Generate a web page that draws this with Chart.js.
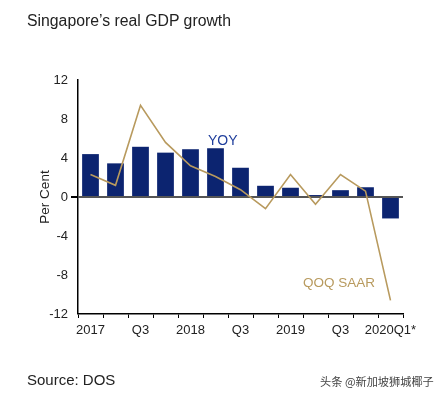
<!DOCTYPE html>
<html lang="en">
<head>
  <meta charset="UTF-8">
  <title>Singapore's real GDP growth</title>
  <script src="https://cdn.jsdelivr.net/npm/chart.js"></script>
  <style>
    body { margin: 0; background: #fff; font-family: "Liberation Sans", Arial, sans-serif; }
    #wrap { position: relative; width: 445px; height: 397px; }
    .txt { position: absolute; white-space: nowrap; }
  </style>
</head>
<body>
  <div id="wrap">
    <canvas id="gdpChart" width="445" height="397"></canvas>
    <div class="txt" style="left:27px; top:12px; font-size:15.8px; color:#222;">Singapore’s real GDP growth</div>
    <div class="txt" style="left:208px; top:132px; font-size:14px; color:#1f3e9c;">YOY</div>
    <div class="txt" style="left:303px; top:275px; font-size:13.5px; color:#b89a5e;">QOQ SAAR</div>
    <div class="txt" style="left:27px; top:371px; font-size:15px; color:#222;">Source: DOS</div>
    <div class="txt" style="left:320px; top:373px; font-size:11.2px; color:#444; font-family:'Noto Sans CJK SC', sans-serif;">头条 @新加坡狮城椰子</div>
  </div>
  <script>
    // quarters 2017Q1 .. 2020Q1
    const quarterLabels = ['2017', '', 'Q3', '', '2018', '', 'Q3', '', '2019', '', 'Q3', '', '2020Q1*'];
    const yoyGrowth = [4.4, 3.45, 5.15, 4.55, 4.9, 5.0, 3.0, 1.15, 0.95, 0.2, 0.7, 1.0, -2.2];
    const qoqSaar = [2.3, 1.2, 9.4, 5.6, 3.2, 2.1, 0.75, -1.2, 2.3, -0.75, 2.3, 0.6, -10.6];
    const yTicks = [-12, -8, -4, 0, 4, 8, 12];

    const ctx = document.getElementById('gdpChart').getContext('2d');
    new Chart(ctx, {
      data: {
        labels: quarterLabels,
        datasets: [
          {
            type: 'line',
            label: 'QOQ SAAR',
            data: qoqSaar,
            borderColor: '#b89a5e',
            borderWidth: 1.6,
            pointRadius: 0,
            tension: 0,
            order: 0
          },
          {
            type: 'bar',
            label: 'YOY',
            data: yoyGrowth,
            backgroundColor: '#0c2470',
            categoryPercentage: 1,
            barPercentage: 0.67,
            order: 1
          }
        ]
      },
      options: {
        responsive: false,
        animation: false,
        layout: { padding: { left: 0, right: 42, top: 80, bottom: 0 } },
        plugins: { legend: { display: false }, tooltip: { enabled: false } },
        scales: {
          x: {
            offset: true,
            grid: { offset: true, drawOnChartArea: false, tickLength: 4, color: '#000' },
            border: { color: '#000', width: 1.5 },
            ticks: {
              autoSkip: false, maxRotation: 0, padding: 5,
              color: '#222', font: { family: 'Liberation Sans', size: 13 }
            },
            afterFit: s => { s.height = 83; }
          },
          y: {
            min: -12, max: 12,
            afterBuildTicks: s => { s.ticks = yTicks.map(v => ({ value: v })); },
            grid: {
              tickLength: 7,
              tickColor: '#000',
              lineWidth: c => (c.tick && c.tick.value === 0 ? 2 : 0),
              color: c => (c.tick && c.tick.value === 0 ? '#555' : 'rgba(0,0,0,0)')
            },
            border: { color: '#000', width: 1.5 },
            ticks: { padding: 3, color: '#222', font: { family: 'Liberation Sans', size: 13 } },
            title: {
              display: true, text: 'Per Cent', color: '#222',
              font: { family: 'Liberation Sans', size: 13.5 },
              padding: { top: 37, bottom: 0 }
            },
            afterFit: s => { s.width = 78; }
          }
        }
      }
    });
  </script>
</body>
</html>
